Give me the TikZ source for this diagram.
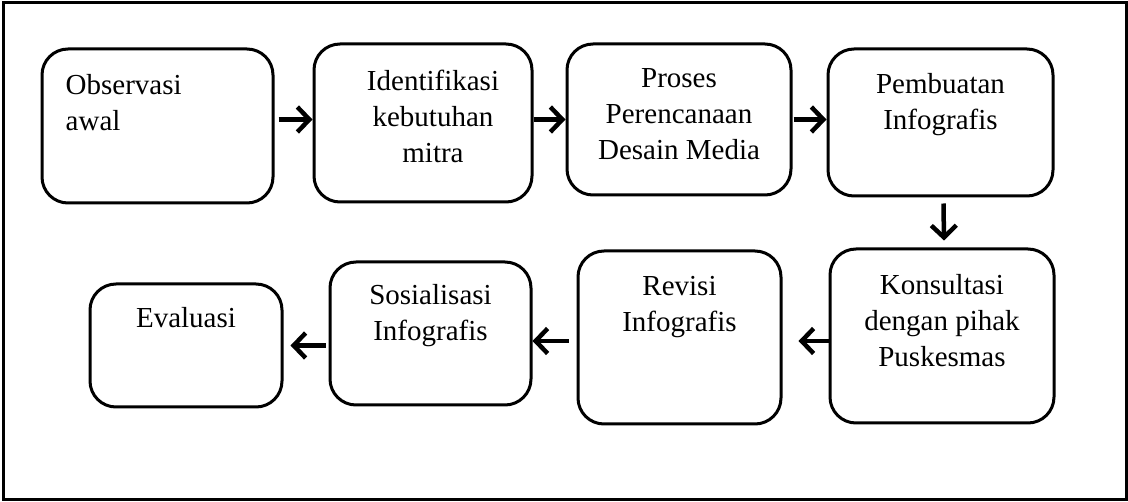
\documentclass[tikz,border=0pt]{standalone}
\usepackage{fontspec}
\setmainfont{Liberation Serif}
\usetikzlibrary{arrows.meta}

\begin{document}
\begin{tikzpicture}[x=1pt, y=-1pt,
                    stage/.style={draw, line width=3pt, rounded corners=26pt},
                    stage text/.style={anchor=north, align=center, inner sep=0pt,
                                       font=\fontsize{29}{36}\selectfont},
                    flow/.style={line width=4.5pt, -{Straight Barb[length=12pt,width=25pt]}}]
  \useasboundingbox (0,0) rectangle (1128,502);
  \draw[line width=3pt] (3,3) rectangle (1126,500);

  % first row
  \node[stage, minimum width=231pt, minimum height=154pt] (obs) at (157.5,126) {};
  \node[stage, minimum width=218pt, minimum height=158pt] (ident) at (423,123) {};
  \node[stage, minimum width=224pt, minimum height=151pt] (proses) at (679,119.5) {};
  \node[stage, minimum width=225pt, minimum height=147pt] (pemb) at (940.5,122.5) {};

  % second row
  \node[stage, minimum width=224pt, minimum height=174pt] (kons) at (942,336) {};
  \node[stage, minimum width=203pt, minimum height=173pt] (revisi) at (679.5,337.5) {};
  \node[stage, minimum width=201pt, minimum height=143pt] (sosial) at (430.5,333.5) {};
  \node[stage, minimum width=192pt, minimum height=123pt] (eval) at (186,345.5) {};

  % texts
  \node[stage text, align=left, anchor=north west] (obs-t) at ([xshift=25pt,yshift=-27pt]obs.north west) {Observasi\\awal};
  \node[stage text] (ident-t) at ([xshift=10pt,yshift=-27pt]ident.north) {Identifikasi\\kebutuhan\\mitra};
  \node[stage text] (proses-t) at ([yshift=-26pt]proses.north) {Proses\\Perencanaan\\Desain Media};
  \node[stage text] (pemb-t) at ([yshift=-26pt]pemb.north) {Pembuatan\\Infografis};
  \node[stage text] (kons-t) at ([yshift=-27pt]kons.north) {Konsultasi\\dengan pihak\\Puskesmas};
  \node[stage text] (revisi-t) at ([yshift=-27pt]revisi.north) {Revisi\\Infografis};
  \node[stage text] (sosial-t) at ([yshift=-24pt]sosial.north) {Sosialisasi\\Infografis};
  \node[stage text] (eval-t) at ([yshift=-25pt]eval.north) {Evaluasi};

  % arrows
  \draw[flow] ([xshift=4pt]obs.east |- proses) -- (ident.west |- proses);
  \draw[flow] (ident.east |- proses) -- (proses.west);
  \draw[flow] ([xshift=1pt]proses.east) -- (pemb.west |- proses);
  \draw[flow] ([xshift=3pt,yshift=-6pt]pemb.south) -- ([xshift=2pt,yshift=7pt]kons.south |- kons.north);
  \draw[flow] ([yshift=-5pt]kons.west) -- ([xshift=16pt]revisi.east |- 0,341);
  \draw[flow] ([xshift=-8pt]revisi.west |- 0,341) -- (sosial.east |- 0,341);
  \draw[flow] ([xshift=-3pt]sosial.west |- eval) -- ([xshift=7pt]eval.east);
\end{tikzpicture}
\end{document}
